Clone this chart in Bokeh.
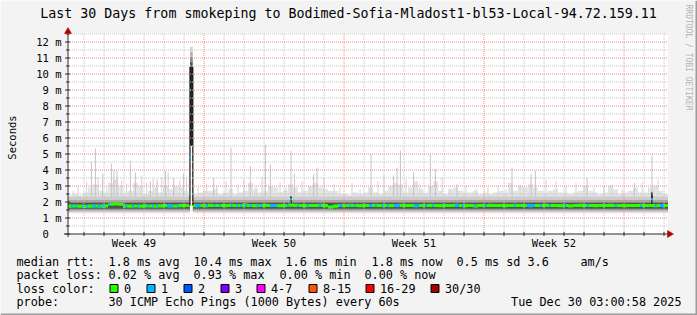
import math
from bokeh.plotting import figure
from bokeh.models import Range1d
from bokeh.core.properties import value
from bokeh.embed import file_html
from bokeh.resources import INLINE

# ---------------- data ----------------
title_text = "Last 30 Days from smokeping to Bodimed-Sofia-Mladost1-bl53-Local-94.72.159.11"
y_label = "Seconds"
y_tick_values = [0, 1, 2, 3, 4, 5, 6, 7, 8, 9, 10, 11, 12]
y_tick_labels = ["0", "1 m", "2 m", "3 m", "4 m", "5 m", "6 m", "7 m", "8 m", "9 m", "10 m", "11 m", "12 m"]
week_label_days = [3.3, 10.3, 17.3, 24.3]
week_labels = ["Week 49", "Week 50", "Week 51", "Week 52"]
week_bound_days = [6.8, 13.8, 20.8, 27.8]
first_day_line = 0.8
days_shown = 30

# median rtt (ms) per 6 h bin
median_ms = [
    1.74, 1.75, 1.74, 1.73, 1.74, 1.75, 1.74, 1.76, 1.86, 1.88,
    1.87, 1.76, 1.74, 1.75, 1.74, 1.76, 1.75, 1.74, 1.76, 1.77,
    1.76, 1.75, 1.77, 1.78, 1.78, 1.77, 1.78, 1.77, 1.79, 1.78,
    1.78, 1.77, 1.79, 1.78, 1.78, 1.80, 1.78, 1.77, 1.78, 1.79,
    1.78, 1.78, 1.77, 1.78, 1.80, 1.79, 1.78, 1.77, 1.78, 1.78,
    1.79, 1.77, 1.68, 1.74, 1.78, 1.78, 1.79, 1.78, 1.77, 1.78,
    1.78, 1.79, 1.78, 1.78, 1.77, 1.78, 1.79, 1.78, 1.78, 1.77,
    1.78, 1.78, 1.79, 1.78, 1.77, 1.78, 1.78, 1.79, 1.78, 1.77,
    1.78, 1.76, 1.78, 1.78, 1.79, 1.78, 1.78, 1.77, 1.78, 1.79,
    1.78, 1.78, 1.77, 1.78, 1.78, 1.79, 1.78, 1.78, 1.77, 1.78,
    1.76, 1.78, 1.79, 1.78, 1.78, 1.77, 1.78, 1.78, 1.79, 1.78,
    1.78, 1.77, 1.78, 1.78, 1.79, 1.78, 1.78, 1.77, 1.78, 1.78,
]
# top of the broad light smoke (ms) per 6 h bin
smoke_top_ms = [
    2.4, 2.5, 2.4, 2.6, 2.9, 3.1, 2.7, 2.6, 3.2, 3.4,
    3.0, 2.6, 2.7, 3.2, 3.0, 2.5, 2.7, 2.9, 2.6, 3.0,
    2.8, 3.0, 2.9, 2.7, 2.5, 2.5, 2.6, 2.7, 2.7, 2.8,
    2.5, 2.6, 2.8, 2.5, 2.6, 2.7, 3.2, 2.8, 2.6, 2.7,
    3.0, 2.9, 2.6, 2.7, 3.1, 2.9, 2.6, 2.7, 3.0, 3.2,
    2.9, 2.8, 2.7, 2.7, 2.5, 2.5, 2.4, 2.6, 2.5, 2.6,
    2.9, 2.6, 2.5, 2.7, 3.0, 3.2, 3.1, 2.6, 2.9, 3.3,
    2.8, 2.6, 3.0, 3.3, 2.7, 2.5, 2.8, 2.9, 2.7, 2.6,
    2.6, 2.7, 2.5, 2.6, 2.5, 2.6, 2.7, 2.6, 3.2, 2.7,
    3.0, 2.9, 3.1, 2.9, 2.7, 2.6, 2.7, 2.8, 2.6, 2.6,
    2.5, 2.6, 2.7, 3.0, 2.7, 2.6, 2.5, 2.6, 3.0, 2.8,
    2.5, 2.6, 2.7, 2.9, 2.6, 2.6, 2.9, 3.0, 2.7, 2.5,
]
# quantile bands around the median (ms): outer -> inner
band_lo_ms = [1.30, 1.38, 1.45, 1.52, 1.60]
band_hi_ms = [None, 2.35, 2.12, 2.00, 1.93]
band_colors = ["#e4e4e4", "#cccccc", "#a8a8a8", "#7c7c7c", "#525252"]

# thin single-sample spikes (tall)
spike_day = [1.17, 1.37, 1.73, 2.17, 2.30, 2.45, 3.12, 3.37, 4.12, 4.45, 4.87, 5.28, 5.78,
             7.28, 8.15, 9.12, 9.87, 10.12, 11.15, 11.32, 12.28, 12.45, 15.15, 16.28, 16.45,
             16.62, 17.28, 18.12, 18.37, 19.45, 22.2, 23.15, 23.37, 25.95, 28.32, 29.2]
spike_ms = [4.5, 5.35, 3.75, 4.4, 4.0, 3.95, 4.6, 3.85, 3.3, 3.4, 3.95, 3.5, 3.75,
            3.5, 5.4, 4.25, 5.6, 4.35, 5.2, 3.75, 3.75, 4.15, 5.0, 3.65, 4.15,
            5.2, 3.85, 5.0, 4.05, 3.1, 4.15, 3.75, 3.95, 3.5, 3.2, 4.9]
# thin strands (medium)
strand_day = [0.26, 0.51, 0.93, 1.51, 1.93, 2.68, 2.93, 3.68, 3.93, 4.26, 4.68, 5.01, 5.59,
              5.93, 6.51, 6.93, 7.43, 7.9, 8.5, 8.8, 9.4, 9.7, 10.6, 10.9, 11.7, 12.1, 12.8,
              13.3, 13.6, 14.2, 14.6, 15.5, 15.8, 16.9, 17.6, 18.7, 19.1, 19.9, 20.4, 21.0,
              21.5, 21.9, 22.6, 23.9, 24.4, 24.9, 25.4, 26.3, 26.8, 27.2, 27.7, 28.7, 29.5]
strand_ms = [2.72, 3.03, 3.24, 3.55, 2.93, 3.34, 3.14, 3.66, 3.24, 3.45, 3.55, 3.86, 3.34,
             3.55, 2.93, 3.14, 3.03, 3.3, 3.1, 3.4, 3.0, 3.6, 3.2, 2.9, 3.3, 3.0, 3.5,
             3.1, 2.9, 3.2, 2.8, 3.3, 3.7, 3.4, 3.1, 3.5, 2.9, 3.0, 2.8, 2.9,
             3.0, 2.8, 3.1, 3.4, 3.3, 3.0, 3.2, 2.9, 3.0, 3.1, 2.8, 3.2, 3.4]
dark_spike_day = [11.15, 29.2]
dark_spike_ms = [2.35, 2.6]

# big outlier sample
big_start_day = 6.1
big_end_day = 6.24
big_min_ms = 5.5
big_median_ms = 10.45
big_max_ms = 11.7
big_loss_marks_ms = [9.0, 4.8]

# periods with 1/30 lost pings
loss_start_day = [0.15, 0.37, 0.70, 0.92, 1.20, 1.32, 1.48, 1.75, 2.03, 2.87, 3.20, 3.48, 3.95, 4.20,
                  4.42, 4.95, 5.45, 6.37, 6.92, 7.28, 7.55, 8.15, 8.40, 8.60, 8.85, 9.10, 9.45, 9.60,
                  10.10, 10.95, 11.45, 11.95, 12.55, 13.55, 14.05, 14.30, 15.05, 15.35, 15.70, 15.95,
                  16.30, 17.30, 17.85, 18.20, 19.35, 19.70, 20.30, 20.85, 22.30, 22.95, 23.60, 24.05,
                  24.80, 25.95, 27.35, 28.60, 29.35, 29.60]
loss_end_day = [0.25, 0.45, 0.78, 1.00, 1.28, 1.40, 1.65, 1.83, 2.11, 2.95, 3.30, 3.56, 4.03, 4.28,
                4.50, 5.25, 5.53, 6.62, 7.00, 7.36, 7.63, 8.23, 8.48, 8.68, 8.93, 9.18, 9.53, 9.68,
                10.45, 11.03, 11.53, 12.03, 12.65, 13.70, 14.13, 14.38, 15.20, 15.43, 15.78, 16.03,
                16.60, 17.55, 17.93, 18.28, 19.55, 19.78, 20.38, 20.93, 22.38, 23.35, 23.68, 24.13,
                24.88, 26.03, 27.43, 28.68, 29.43, 29.80]

loss_labels = ["0", "1", "2", "3", "4-7", "8-15", "16-29", "30/30"]
loss_colors = ["#26ff00", "#00b8ff", "#0059ff", "#7e00ff", "#ff00ff", "#ff5500", "#ff0000", "#a10000"]

rtt_stats = [1.8, 10.4, 1.6, 1.8, 0.5, 3.6]
loss_stats = [0.02, 0.93, 0.00, 0.00]
probe_text = "30 ICMP Echo Pings (1000 Bytes) every 60s"
stamp_text = "Tue Dec 30 03:00:58 2025"

# ---------------- layout (pixels of the 697x315 image) ----------------
W, H = 697, 315
X0, Y0 = 67.5, 233.5          # pixel of (day 0, 0 ms)
PX_DAY, PX_MS = 20.0, 16.0    # pixels per day / per ms
TOP_PX = 33
MONO = "DejaVu Sans Mono"
AXIS_COL = "#2c2c2c"
ARROW_COL = "#b40000"
MGRID = "#f08c8c"
GRID = "#c4c4c4"
LEG_SIZE = "11.8px"


def dx(px):
    return (px - X0) / PX_DAY


def dy(py):
    return (Y0 - py) / PX_MS


Y_TOP = dy(TOP_PX)

p = figure(width=W, height=H, output_backend="svg", toolbar_location=None,
           x_range=Range1d(dx(0), dx(W)), y_range=Range1d(dy(H), dy(0)),
           x_axis_location=None, y_axis_location=None,
           min_border=0, min_border_left=0, min_border_right=0, min_border_top=0, min_border_bottom=0,
           background_fill_color="#f3f3f3", border_fill_color="#f3f3f3")
p.outline_line_color = None
p.grid.visible = False

# plot canvas
p.quad(left=[0], right=[days_shown], bottom=[0], top=[Y_TOP], fill_color="white", line_color=None)

N = len(median_ms)
bw = days_shown / N
xs = []
for i in range(N):
    xs += [i * bw, (i + 1) * bw]


def dup(a):
    out = []
    for v in a:
        out += [v, v]
    return out


# outer light smoke
p.varea(x=xs, y1=dup([band_lo_ms[0]] * N), y2=dup(smoke_top_ms), fill_color=band_colors[0])
# thin strands and spikes
p.quad(left=[d - 0.03 for d in strand_day], right=[d + 0.03 for d in strand_day],
       bottom=[2.2] * len(strand_day), top=strand_ms, fill_color="#dadada", line_color=None)
p.quad(left=[d - 0.025 for d in spike_day], right=[d + 0.025 for d in spike_day],
       bottom=[2.2] * len(spike_day), top=spike_ms, fill_color="#c4c4c4", line_color=None)
# inner bands
for k in range(1, len(band_lo_ms)):
    tops = [min(band_hi_ms[k], t) for t in smoke_top_ms]
    p.varea(x=xs, y1=dup([band_lo_ms[k]] * N), y2=dup(tops), fill_color=band_colors[k])
# dark short spikes
p.quad(left=[d - 0.05 for d in dark_spike_day], right=[d + 0.05 for d in dark_spike_day],
       bottom=[1.85] * len(dark_spike_day), top=dark_spike_ms, fill_color="#333333", line_color=None)

# median coloured by loss
p.varea(x=xs, y1=dup([m - 0.1 for m in median_ms]), y2=dup([m + 0.1 for m in median_ms]),
        fill_color=loss_colors[0])
lm = [median_ms[min(int(s / bw), N - 1)] for s in loss_start_day]
p.quad(left=loss_start_day, right=loss_end_day, bottom=[m - 0.1 for m in lm],
       top=[m + 0.1 for m in lm], fill_color=loss_colors[1], line_color=None)
p.quad(left=[d - 0.05 for d in dark_spike_day], right=[d + 0.05 for d in dark_spike_day],
       bottom=[2.1] * len(dark_spike_day), top=[2.25] * len(dark_spike_day),
       fill_color=loss_colors[1], line_color=None)

# big outlier
p.quad(left=[big_start_day], right=[big_end_day], bottom=[0.05], top=[big_min_ms],
       fill_color="white", line_color=None)
p.quad(left=[big_start_day], right=[big_end_day], bottom=[big_min_ms], top=[big_median_ms],
       fill_color="#2a2a2a", line_color=None)
grad = ["#5a5a5a", "#8a8a8a", "#b4b4b4", "#d6d6d6"]
step = (big_max_ms - big_median_ms) / len(grad)
p.quad(left=[big_start_day] * len(grad), right=[big_end_day] * len(grad),
       bottom=[big_median_ms + j * step for j in range(len(grad))],
       top=[big_median_ms + (j + 1) * step for j in range(len(grad))],
       fill_color=grad, line_color=None)
m_big = median_ms[int(big_start_day / bw)]
p.segment(x0=[big_start_day, big_end_day], y0=[m_big, m_big],
          x1=[big_start_day, big_end_day], y1=[big_median_ms, big_median_ms],
          line_color="#111111", line_width=1.2)
p.quad(left=[big_start_day - 0.03] * len(big_loss_marks_ms), right=[big_start_day + 0.04] * len(big_loss_marks_ms),
       bottom=[v - 0.08 for v in big_loss_marks_ms], top=[v + 0.08 for v in big_loss_marks_ms],
       fill_color=loss_colors[1], line_color=None)

# ---------------- grid ----------------
halves = [v + 0.5 for v in y_tick_values if v + 0.5 < Y_TOP]
day_lines = [round(first_day_line + k, 2) for k in range(days_shown)]
day_minor = [d for d in day_lines if d not in week_bound_days]
p.segment(x0=[0] * len(halves), x1=[days_shown] * len(halves), y0=halves, y1=halves,
          line_color=GRID, line_width=1, line_dash="1 1")
p.segment(x0=day_minor, x1=day_minor, y0=[0] * len(day_minor), y1=[Y_TOP] * len(day_minor),
          line_color=GRID, line_width=1, line_dash="1 1")
majors_y = y_tick_values[1:]
p.segment(x0=[0] * len(majors_y), x1=[days_shown] * len(majors_y), y0=majors_y, y1=majors_y,
          line_color=MGRID, line_width=1, line_dash="1 1")
p.segment(x0=week_bound_days, x1=week_bound_days, y0=[0] * 4, y1=[Y_TOP] * 4,
          line_color=MGRID, line_width=1, line_dash="1 1")

# ---------------- axes ----------------
p.segment(x0=[0, dx(63.5)], y0=[dy(236.5), 0], x1=[0, dx(668)], y1=[dy(TOP_PX), 0],
          line_color=AXIS_COL, line_width=1)
p.segment(x0=[dx(64.5)] * len(y_tick_values), x1=[dx(69.5)] * len(y_tick_values),
          y0=y_tick_values, y1=y_tick_values, line_color=AXIS_COL, line_width=1)
p.segment(x0=[dx(65.5)] * len(halves), x1=[dx(69)] * len(halves),
          y0=halves, y1=halves, line_color=AXIS_COL, line_width=1)
p.segment(x0=day_lines, x1=day_lines, y0=[dy(235.5)] * len(day_lines), y1=[dy(231.5)] * len(day_lines),
          line_color=AXIS_COL, line_width=1)
p.patches(xs=[[dx(64), dx(67.5), dx(71)], [dx(667), dx(673), dx(667)]],
          ys=[[dy(33), dy(27), dy(33)], [dy(230), dy(233.5), dy(237)]],
          fill_color=ARROW_COL, line_color=ARROW_COL, line_width=0.5)

p.text(x=[0] * len(y_tick_values), y=y_tick_values,
       text=[(t if " " in t else t + "\u00a0\u00a0") for t in y_tick_labels],
       x_offset=-6.5, text_align="right", text_baseline="middle",
       text_font=value(MONO), text_font_size=value("10.5px"), text_color="#000000")
p.text(x=week_label_days, y=[0] * len(week_labels), text=week_labels, y_offset=8.5,
       text_align="center", text_baseline="middle",
       text_font=value(MONO), text_font_size=value("10.5px"), text_color="#000000")


# ---------------- other texts ----------------
def lab(px, py, text, size=LEG_SIZE, align="left", color="#000000", angle=0.0):
    p.text(x=[dx(px)], y=[dy(py)], text=[text], angle=angle, text_align=align,
           text_baseline="middle", text_font=value(MONO), text_font_size=value(size),
           text_color=color)


lab(348, 13, title_text, size="13.3px", align="center")
lab(11, 137, y_label, size="10.5px", align="center", angle=math.pi / 2)
lab(688, 4, "RRDTOOL / TOBI OETIKER", size="8px", color="#b4b4b4", angle=-math.pi / 2)

r1 = 261
lab(16, r1, "median rtt:")
rtt_names = ["avg", "max", "min", "now", "sd"]
rtt_x = [108, 193, 285, 371, 456]
for v, n, x in zip(rtt_stats[:5], rtt_names, rtt_x):
    lab(x, r1, f"{v:.1f} ms {n}")
lab(527, r1, f"{rtt_stats[5]:.1f}")
lab(580, r1, "am/s")

r2 = 274.5
lab(16, r2, "packet loss:")
loss_names = ["avg", "max", "min", "now"]
loss_x = [108, 193, 279, 364]
for v, n, x in zip(loss_stats, loss_names, loss_x):
    lab(x, r2, f"{v:.2f} % {n}")

r3 = 288
lab(16, r3, "loss color:")
box_x = [109, 146, 183, 220, 256, 308, 365, 430]
p.quad(left=[dx(bx + 0.5) for bx in box_x], right=[dx(bx + 8.5) for bx in box_x],
       bottom=[dy(r3 + 4)] * len(box_x), top=[dy(r3 - 4)] * len(box_x),
       fill_color=loss_colors, line_color="black", line_width=1)
for bx, t in zip(box_x, loss_labels):
    lab(bx + 14.5, r3, t)

r4 = 301.5
lab(16, r4, "probe:")
lab(108, r4, probe_text)
lab(681, r4, stamp_text, align="right")

# shaded image border
p.quad(left=[dx(695), dx(0)], right=[dx(W), dx(W)], bottom=[dy(H), dy(H)], top=[dy(0), dy(313)],
       fill_color="#9c9c9c", line_color=None)

open("out.html", "w").write(file_html(p, INLINE))
